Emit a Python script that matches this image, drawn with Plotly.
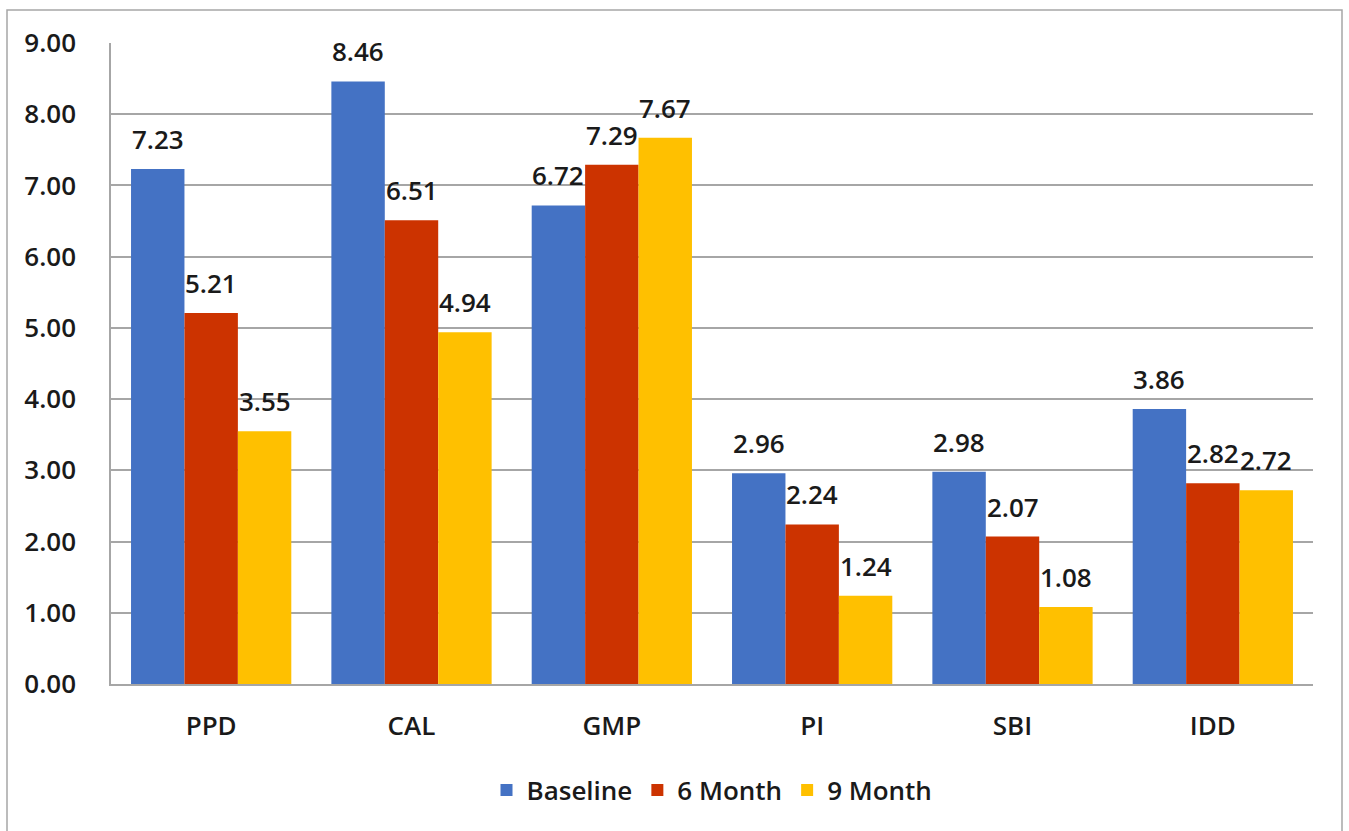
import plotly.graph_objects as go

categories = ["PPD", "CAL", "GMP", "PI", "SBI", "IDD"]
series_names = ["Baseline", "6 Month", "9 Month"]
baseline = [7.23, 8.46, 6.72, 2.96, 2.98, 3.86]
month_6 = [5.21, 6.51, 7.29, 2.24, 2.07, 2.82]
month_9 = [3.55, 4.94, 7.67, 1.24, 1.08, 2.72]
colors = ["#4472C4", "#CC3300", "#FFC000"]
y_ticks = [0, 1, 2, 3, 4, 5, 6, 7, 8, 9]

series_values = [baseline, month_6, month_9]
FONT = "Open Sans"
FSIZE = 26
WEIGHT = 600
TEXT_COLOR = "#1a1a1a"
GRID = "#a6a6a6"
BARGAP = 0.2

fig = go.Figure()
for name, vals, col in zip(series_names, series_values, colors):
    fig.add_trace(go.Bar(
        name=name, x=categories, y=vals,
        marker=dict(color=col, line=dict(width=0)),
        hoverinfo="x+y+name",
    ))

# value labels floated above each bar in its group slot
n = len(series_values)
slot = (1 - BARGAP) / n
annotations = []
for j, vals in enumerate(series_values):
    offset = (j - (n - 1) / 2) * slot
    for i, v in enumerate(vals):
        annotations.append(dict(
            x=i + offset, y=v, xref="x", yref="y",
            text=f"{v:.2f}", showarrow=False,
            yanchor="middle", yshift=30,
            font=dict(family=FONT, size=FSIZE, color=TEXT_COLOR, weight=WEIGHT),
        ))

W, H = 1349, 831
L, R, T, B = 111, 36, 43, 147
pw, ph = W - L - R, H - T - B

def px_x(p):
    return (p - L) / pw

def px_y(p):
    return (H - B - p) / ph

fig.update_layout(
    width=W, height=H,
    margin=dict(l=L, r=R, t=T, b=B),
    paper_bgcolor="white", plot_bgcolor="white",
    barmode="group", bargap=BARGAP, bargroupgap=0,
    font=dict(family=FONT, size=FSIZE, color=TEXT_COLOR),
    annotations=annotations,
    showlegend=True,
    legend=dict(
        orientation="h", x=0.5, xanchor="center",
        y=px_y(790), yanchor="middle",
        font=dict(family=FONT, size=FSIZE, color=TEXT_COLOR, weight=WEIGHT),
        itemwidth=30, traceorder="normal",
    ),
    shapes=[dict(
        type="rect", xref="paper", yref="paper",
        x0=px_x(7), x1=px_x(1342), y0=px_y(845), y1=px_y(10),
        line=dict(color="#a6a6a6", width=1.5), fillcolor="rgba(0,0,0,0)",
        layer="below",
    )],
)

fig.update_xaxes(
    showgrid=False, showline=True, linecolor=GRID, linewidth=1.5,
    ticks="", ticklabelstandoff=18,
    tickfont=dict(family=FONT, size=FSIZE, color=TEXT_COLOR, weight=WEIGHT),
)
fig.update_yaxes(
    range=[0, 9], tickvals=y_ticks, tickformat=".2f",
    showgrid=True, gridcolor=GRID, gridwidth=1.5,
    showline=True, linecolor=GRID, linewidth=1.5,
    zeroline=False, ticks="", ticklabelstandoff=28,
    tickfont=dict(family=FONT, size=FSIZE, color=TEXT_COLOR, weight=WEIGHT),
)

fig.write_html("out.html")
